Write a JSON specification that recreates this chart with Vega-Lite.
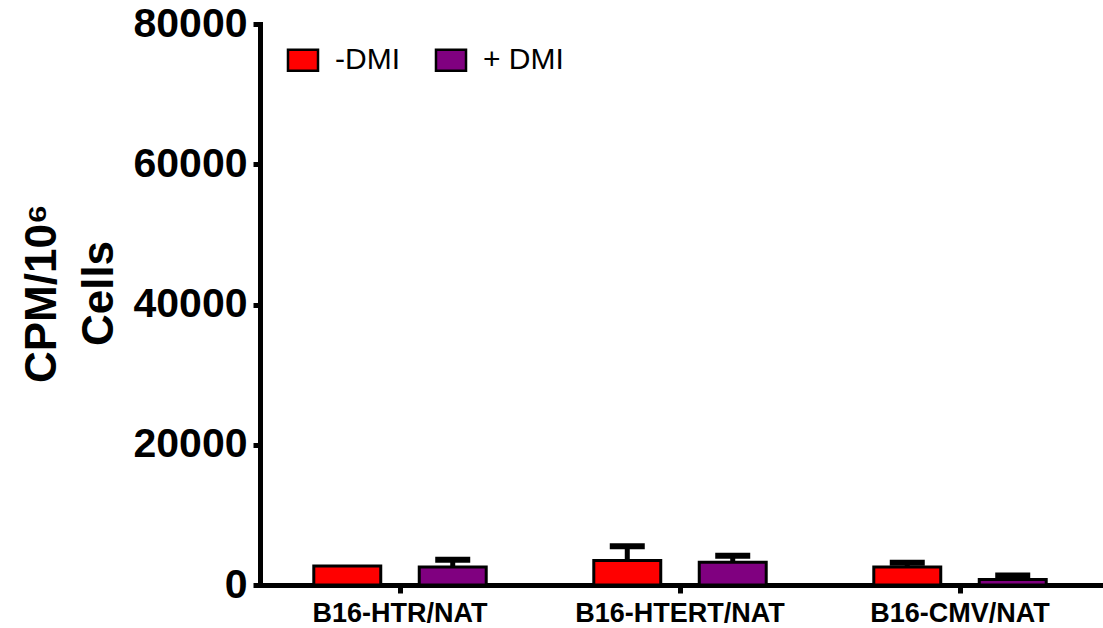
{
  "$schema": "https://vega.github.io/schema/vega-lite/v6.json",
  "width": 840,
  "height": 561,
  "autosize": {"type": "none"},
  "padding": {"left": 260, "top": 24, "right": 3, "bottom": 43},
  "background": "white",
  "config": {"view": {"stroke": null}, "font": "Liberation Sans"},
  "data": {
    "values": [
      {"line": "B16-HTR/NAT", "treatment": "-DMI", "value": 2700, "upper": null},
      {"line": "B16-HTR/NAT", "treatment": "+ DMI", "value": 2550, "upper": 3600},
      {"line": "B16-HTERT/NAT", "treatment": "-DMI", "value": 3480, "upper": 5530},
      {"line": "B16-HTERT/NAT", "treatment": "+ DMI", "value": 3260, "upper": 4160},
      {"line": "B16-CMV/NAT", "treatment": "-DMI", "value": 2550, "upper": 3190},
      {"line": "B16-CMV/NAT", "treatment": "+ DMI", "value": 780, "upper": 1350}
    ]
  },
  "encoding": {
    "x": {
      "field": "line",
      "type": "nominal",
      "sort": ["B16-HTR/NAT", "B16-HTERT/NAT", "B16-CMV/NAT"],
      "scale": {"paddingInner": 0, "paddingOuter": 0},
      "axis": {
        "title": null,
        "labelAngle": 0,
        "labelLimit": 0,
        "labelFont": "Liberation Sans",
        "labelFontSize": 27,
        "labelFontWeight": "bold",
        "labelColor": "black",
        "labelPadding": 7,
        "domainColor": "black",
        "domainWidth": 5,
        "domainCap": "square",
        "tickColor": "black",
        "tickWidth": 5,
        "tickSize": 8
      }
    },
    "xOffset": {
      "field": "treatment",
      "type": "nominal",
      "sort": ["-DMI", "+ DMI"],
      "scale": {"paddingInner": 0.365, "paddingOuter": 0.51}
    }
  },
  "layer": [
    {
      "mark": {"type": "bar", "stroke": "black", "strokeWidth": 3, "opacity": 1},
      "encoding": {
        "y": {
          "field": "value",
          "type": "quantitative",
          "scale": {"domain": [0, 80000], "nice": false},
          "axis": {
            "values": [0, 20000, 40000, 60000, 80000],
            "format": "d",
            "grid": false,
            "labelFont": "Liberation Sans",
            "labelFontSize": 41,
            "labelFontWeight": "bold",
            "labelColor": "black",
            "labelPadding": 6,
            "domainColor": "black",
            "domainWidth": 5,
            "domainCap": "square",
            "tickColor": "black",
            "tickWidth": 5,
            "tickSize": 7,
            "title": ["CPM/10⁶", "Cells"],
            "titleFont": "Liberation Sans",
            "titleFontSize": 44,
            "titleFontWeight": "bold",
            "titleColor": "black",
            "titleAngle": -90,
            "titleX": -205,
            "titleY": 269,
            "titleAlign": "center",
            "titleBaseline": "alphabetic",
            "titleLineHeight": 57
          }
        },
        "color": {
          "field": "treatment",
          "type": "nominal",
          "sort": ["-DMI", "+ DMI"],
          "scale": {"domain": ["-DMI", "+ DMI"], "range": ["#FF0000", "#800080"]},
          "legend": {
            "title": null,
            "orient": "none",
            "legendX": 28,
            "legendY": 21,
            "direction": "horizontal",
            "padding": 0,
            "symbolType": "M-1.43,-1H1.43V1H-1.43Z",
            "symbolSize": 441,
            "symbolStrokeColor": "black",
            "symbolStrokeWidth": 2.5,
            "symbolFillOpacity": 1,
            "symbolOpacity": 1,
            "labelFont": "Liberation Sans",
            "labelFontSize": 30,
            "labelColor": "black",
            "labelOffset": 17,
            "columnPadding": 30
          }
        }
      }
    },
    {
      "transform": [{"filter": "datum.upper != null"}],
      "mark": {"type": "rule", "strokeWidth": 5, "color": "black", "opacity": 1},
      "encoding": {
        "y": {"field": "value", "type": "quantitative"},
        "y2": {"field": "upper"}
      }
    },
    {
      "transform": [{"filter": "datum.upper != null"}],
      "mark": {"type": "tick", "color": "black", "thickness": 6, "size": 35, "orient": "horizontal", "opacity": 1},
      "encoding": {
        "y": {"field": "upper", "type": "quantitative"}
      }
    }
  ]
}
